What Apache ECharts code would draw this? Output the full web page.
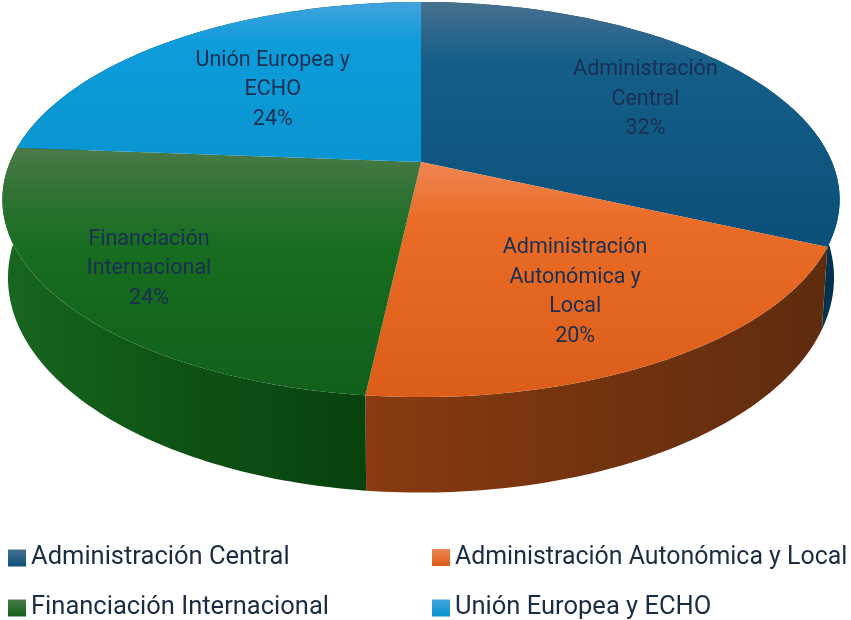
<!DOCTYPE html>
<html>
<head>
<meta charset="utf-8">
<style>html,body{margin:0;padding:0;background:#fff}#c{width:851px;height:620px}</style>
<script src="https://cdn.jsdelivr.net/npm/echarts@6/dist/echarts.min.js"></script>
</head>
<body>
<div id="c"></div>
<script>
const categories = ['Administración Central', 'Administración Autonómica y Local', 'Financiación Internacional', 'Unión Europea y ECHO'];
const values = [31.75, 20, 24.45, 23.8];
const labelLines = ['Administración\nCentral', 'Administración\nAutonómica y\nLocal', 'Financiación\nInternacional', 'Unión Europea y\nECHO'];

const topStops = [
  [[0, '#47708f'], [0.25, '#145f8a'], [1, '#0a4f78']],
  [[0, '#ef8552'], [0.25, '#ea6c26'], [1, '#db5d17']],
  [[0, '#4a7a48'], [0.2, '#2f7232'], [0.4, '#176d20'], [1, '#11601a']],
  [[0, '#42a2dc'], [0.25, '#0d9dda'], [1, '#0995d1']]
];
const wallStops = [
  [[0, '#0a3a5e'], [1, '#03304f']],
  [[0, '#893b11'], [0.5, '#73330f'], [1, '#5f2c0e']],
  [[0, '#186620'], [0.3, '#125a18'], [0.55, '#0e5014'], [1, '#07420f']],
  [[0, '#0a3a5e'], [1, '#0a3a5e']]
];
const legendPos = [[8, 545], [432, 545], [8, 595], [432, 595]];
const legendFont = [25.5, 24.9, 25.5, 25.5];
const labelShift = [[-1, 5], [-7, -1], [-30, 14], [30, 17]];

const total = values.reduce((a, b) => a + b, 0);
const starts = values.map((v, i) => values.slice(0, i).reduce((a, b) => a + b, 0));
const tilt = 0.19;
const topFace = { x: 421, y: 162, a: 411, b: 190.4 };
const baseFace = { x: 421, y: 237, a: 405.5, b: 207 };

function project(face, deg, r) {
  const t = deg * Math.PI / 180;
  const X = r * Math.sin(t), Y = -r * Math.cos(t);
  const w = 1 - tilt * Y;
  return [face.x + face.a * X / w, face.y + face.b * Y / w];
}
function arc(face, d0, d1) {
  const pts = [], n = Math.max(2, Math.ceil(Math.abs(d1 - d0)));
  for (let k = 0; k <= n; k++) pts.push(project(face, d0 + (d1 - d0) * k / n, 1));
  return pts;
}
function grad(stops, x2, y2) {
  return new echarts.graphic.LinearGradient(0, 0, x2, y2, stops.map(s => ({ offset: s[0], color: s[1] })));
}

function makeRender(i, layer) {
  return function (params, api) {
    const v = api.value(0);
    const d0 = starts[i] / total * 360, d1 = d0 + v / total * 360;
    if (layer === 'wall') {
      const pts = arc(topFace, d0, d1).concat(arc(baseFace, d1, d0));
      return { type: 'polygon', shape: { points: pts }, style: { fill: grad(wallStops[i], 1, 0) }, silent: true };
    }
    const pts = [project(topFace, 0, 0)].concat(arc(topFace, d0, d1));
    const mid = project(topFace, (d0 + d1) / 2, 0.7);
    return {
      type: 'group', silent: true,
      children: [
        { type: 'polygon', shape: { points: pts }, style: { fill: grad(topStops[i], 0, 1) } },
        { type: 'text', z2: 10, style: {
            x: mid[0] + labelShift[i][0], y: mid[1] + labelShift[i][1],
            text: labelLines[i] + '\n' + Math.round(v) + '%',
            textAlign: 'center', textVerticalAlign: 'middle',
            font: '21.5px Roboto', lineHeight: 29.5, fill: '#1b2f52'
        } }
      ]
    };
  };
}

const wallSeries = categories.map((c, i) => ({
  type: 'custom', name: c + ' ', coordinateSystem: 'none', z: 1, animation: false,
  renderItem: makeRender(i, 'wall'), data: [[values[i]]]
}));
const topSeries = categories.map((c, i) => ({
  type: 'custom', name: c, coordinateSystem: 'none', z: 2, animation: false,
  renderItem: makeRender(i, 'top'), data: [[values[i]]],
  itemStyle: { color: grad([topStops[i][0], [1, topStops[i][topStops[i].length - 1][1]]], 0, 1) }
}));

const chart = echarts.init(document.getElementById('c'), null, { renderer: 'canvas' });
chart.setOption({
  backgroundColor: '#ffffff',
  animation: false,
  legend: categories.map((c, i) => ({
    data: [c], left: legendPos[i][0], top: legendPos[i][1], padding: 0,
    icon: 'rect', itemWidth: 18, itemHeight: 17, selectedMode: false,
    textStyle: { fontFamily: 'Roboto', fontSize: legendFont[i], color: '#1b2d45' }
  })),
  series: wallSeries.concat(topSeries)
});
</script>
</body>
</html>
